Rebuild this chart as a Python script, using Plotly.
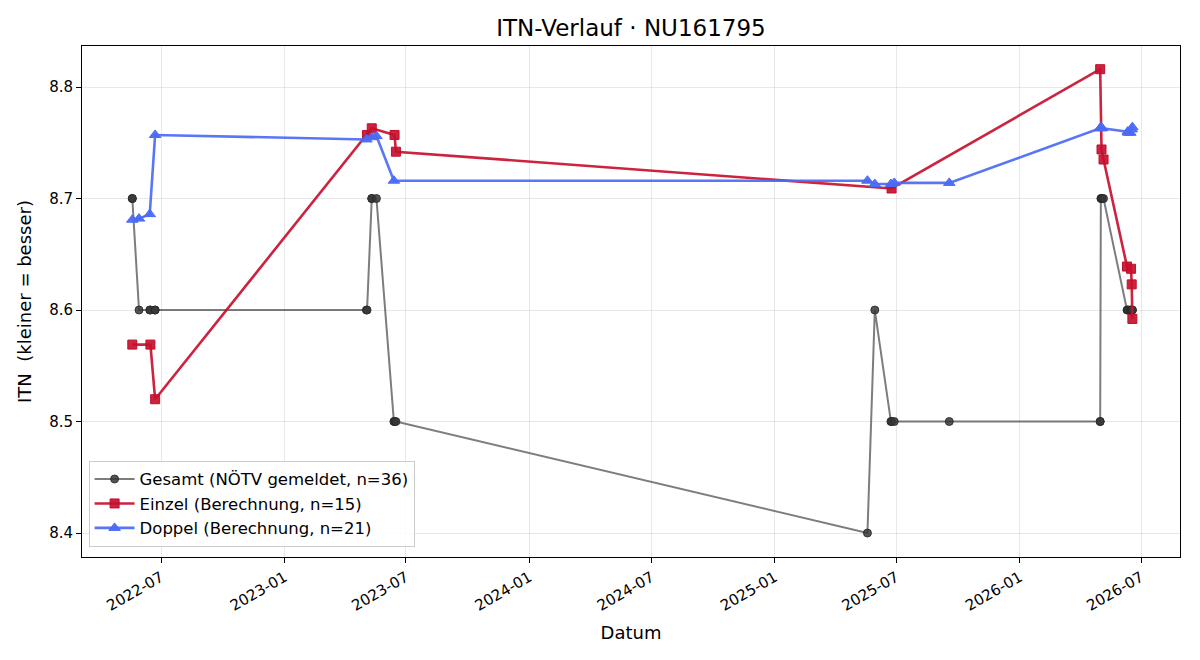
import plotly.graph_objects as go

# Gesamt (NÖTV gemeldet)
gesamt_dates = [
    "2022-05-19", "2022-05-19", "2022-05-29", "2022-06-14", "2022-06-15", "2022-06-22", "2022-06-22",
    "2023-05-03", "2023-05-04", "2023-05-11", "2023-05-11", "2023-05-18", "2023-06-13", "2023-06-14", "2023-06-16",
    "2025-05-19", "2025-05-30", "2025-06-23", "2025-06-24", "2025-06-28", "2025-09-18",
    "2026-05-01", "2026-05-01", "2026-05-02", "2026-05-03", "2026-05-04", "2026-05-06",
    "2026-06-10", "2026-06-11", "2026-06-12", "2026-06-15", "2026-06-16", "2026-06-17", "2026-06-17",
    "2026-06-18", "2026-06-18",
]
gesamt_vals = [
    8.7, 8.7, 8.6, 8.6, 8.6, 8.6, 8.6,
    8.6, 8.6, 8.7, 8.7, 8.7, 8.5, 8.5, 8.5,
    8.4, 8.6, 8.5, 8.5, 8.5, 8.5,
    8.5, 8.5, 8.7, 8.7, 8.7, 8.7,
    8.6, 8.6, 8.6, 8.6, 8.6, 8.6, 8.6,
    8.6, 8.6,
]

# Einzel (Berechnung)
einzel_dates = [
    "2022-05-19", "2022-06-15", "2022-06-22",
    "2023-05-04", "2023-05-11", "2023-06-14", "2023-06-16",
    "2025-06-24",
    "2026-05-01", "2026-05-03", "2026-05-06", "2026-06-10", "2026-06-16", "2026-06-17", "2026-06-18",
]
einzel_vals = [
    8.569, 8.569, 8.520,
    8.757, 8.763, 8.757, 8.742,
    8.709,
    8.816, 8.744, 8.735, 8.639, 8.637, 8.623, 8.592,
]

# Doppel (Berechnung)
doppel_dates = [
    "2022-05-19", "2022-05-29", "2022-06-14", "2022-06-22",
    "2023-05-03", "2023-05-11", "2023-05-18", "2023-06-13",
    "2025-05-19", "2025-05-30", "2025-06-23", "2025-06-28", "2025-09-18",
    "2026-05-01", "2026-05-02", "2026-05-04", "2026-06-11", "2026-06-12", "2026-06-15", "2026-06-17",
    "2026-06-18",
]
doppel_vals = [
    8.681, 8.682, 8.686, 8.757,
    8.753, 8.755, 8.756, 8.716,
    8.716, 8.713, 8.713, 8.714, 8.714,
    8.763, 8.764, 8.763, 8.760, 8.759, 8.759, 8.762,
    8.764,
]

FONT = "DejaVu Sans"

fig = go.Figure()
fig.add_trace(go.Scatter(
    x=gesamt_dates, y=gesamt_vals, mode="lines+markers",
    name="Gesamt (NÖTV gemeldet, n=36)",
    line=dict(color="rgba(70,70,70,0.7)", width=2),
    marker=dict(symbol="circle", size=8, color="rgba(55,55,55,0.85)",
                line=dict(color="rgba(40,40,40,0.85)", width=1)),
))
fig.add_trace(go.Scatter(
    x=einzel_dates, y=einzel_vals, mode="lines+markers",
    name="Einzel (Berechnung, n=15)",
    line=dict(color="rgba(200,16,46,0.92)", width=2.6),
    marker=dict(symbol="square", size=9, color="rgba(200,16,46,0.92)",
                line=dict(color="rgba(190,16,46,1)", width=1)),
))
fig.add_trace(go.Scatter(
    x=doppel_dates, y=doppel_vals, mode="lines+markers",
    name="Doppel (Berechnung, n=21)",
    line=dict(color="rgba(75,106,245,0.92)", width=2.6),
    marker=dict(symbol="triangle-up", size=10, color="rgba(75,106,245,0.95)",
                line=dict(color="rgba(75,106,245,1)", width=1)),
))

axis_common = dict(
    showline=True, linecolor="black", linewidth=1, mirror=True,
    ticks="outside", tickcolor="black", ticklen=5, tickwidth=1,
    showgrid=True, gridcolor="rgba(0,0,0,0.09)", gridwidth=1,
    zeroline=False,
    tickfont=dict(family=FONT, size=15, color="black"),
)

fig.update_layout(
    width=1200, height=660,
    margin=dict(l=82, r=20, t=46, b=103),
    paper_bgcolor="white", plot_bgcolor="white",
    font=dict(family=FONT, color="black"),
    title=dict(text="ITN-Verlauf · NU161795", xref="paper", x=0.5, xanchor="center",
               y=0.957, yanchor="middle",
               font=dict(family=FONT, size=23, color="black")),
    xaxis=dict(
        **axis_common,
        type="date",
        range=["2022-03-05", "2026-08-28"],
        tick0="2022-01-01", dtick="M6", tickformat="%Y-%m",
        tickangle=-30,
        title=dict(text="Datum", font=dict(family=FONT, size=18), standoff=12),
    ),
    yaxis=dict(
        **axis_common,
        range=[8.3785, 8.8368],
        tick0=8.4, dtick=0.1, tickformat=".1f",
        title=dict(text="ITN  (kleiner = besser)", font=dict(family=FONT, size=18), standoff=12),
    ),
    legend=dict(
        x=0.006, y=0.02, xanchor="left", yanchor="bottom",
        bgcolor="rgba(255,255,255,0.85)", bordercolor="#cccccc", borderwidth=1,
        font=dict(family=FONT, size=16.5, color="black"),
        tracegroupgap=2, itemwidth=40,
    ),
    showlegend=True,
)

fig.write_html("out.html")
